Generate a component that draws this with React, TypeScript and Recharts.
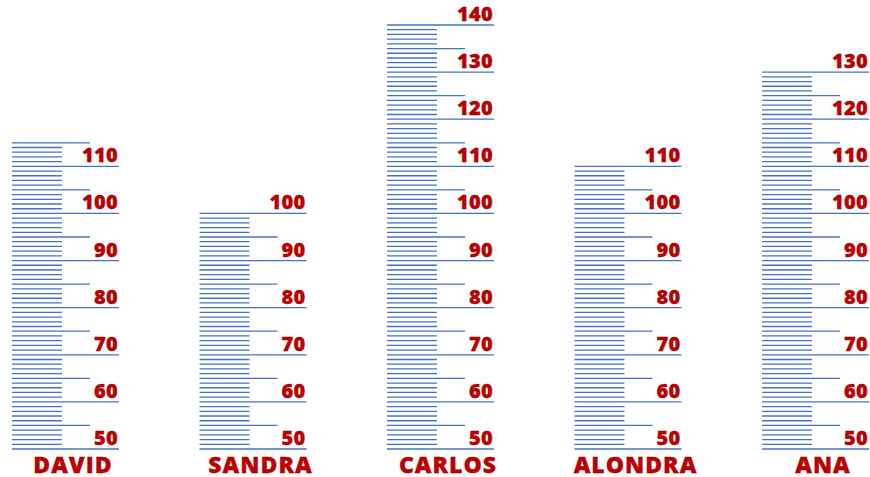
import React from 'react';
import { ScatterChart, Scatter, XAxis, YAxis } from 'recharts';

const NAMES = ['DAVID', 'SANDRA', 'CARLOS', 'ALONDRA', 'ANA'];
const HEIGHTS = [115, 100, 140, 110, 130];
const BASE = 50;

const BLUE = '#4472c4';
const RED = '#c00000';
const FONT = '"Open Sans", "DejaVu Sans", sans-serif';

// one graduation per unit, from the base up to each child's height
const marks = NAMES.flatMap((name, i) => {
  const out: { x: number; v: number; name: string }[] = [];
  for (let v = BASE; v <= HEIGHTS[i]; v++) out.push({ x: i, v, name });
  return out;
});

const RulerMark = (props: any) => {
  const { cx, cy, payload } = props;
  const start = cx - 61;
  const len = payload.v % 10 === 0 ? 107 : payload.v % 5 === 0 ? 78 : 50;
  return (
    <g>
      <line x1={start} x2={start + len} y1={cy} y2={cy} stroke={BLUE} strokeWidth={1.3} />
      {payload.v % 10 === 0 && (
        <text
          x={start + 106}
          y={cy - 4}
          textAnchor="end"
          fill={RED}
          stroke="#800000"
          strokeWidth={0.3}
          fontFamily={FONT}
          fontWeight={800}
          fontSize={20}
          letterSpacing={0.3}
        >
          {payload.v}
        </text>
      )}
    </g>
  );
};

const NameTick = (props: any) => {
  const { x, y, payload } = props;
  return (
    <text
      x={x}
      y={y + 15}
      textAnchor="middle"
      dominantBaseline="central"
      fill={RED}
      stroke="#800000"
      strokeWidth={0.3}
      fontFamily={FONT}
      fontWeight={800}
      fontSize={23}
      letterSpacing={1}
    >
      {NAMES[payload.value]}
    </text>
  );
};

export default function App() {
  return (
    <div style={{ position: 'absolute', left: 0, top: 0, background: '#fff' }}>
      <ScatterChart width={870} height={477} margin={{ top: 25, right: 47, bottom: 0, left: 73 }}>
        <XAxis
          type="number"
          dataKey="x"
          domain={[0, NAMES.length - 1]}
          ticks={NAMES.map((_, i) => i)}
          axisLine={false}
          tickLine={false}
          tickSize={0}
          tickMargin={0}
          height={28}
          interval={0}
          tick={<NameTick />}
        />
        <YAxis type="number" dataKey="v" domain={[BASE, 140]} hide width={0} />
        <Scatter data={marks} shape={<RulerMark />} isAnimationActive={false} />
      </ScatterChart>
    </div>
  );
}
